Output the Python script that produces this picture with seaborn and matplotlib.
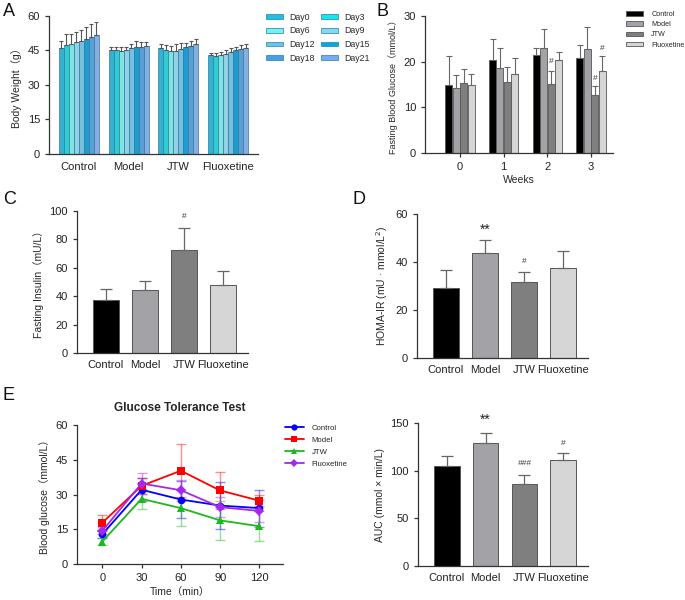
import numpy as np
import pandas as pd
import matplotlib
matplotlib.use("Agg")
import matplotlib.pyplot as plt
from matplotlib.patches import Patch
from matplotlib.lines import Line2D
import seaborn as sns

# ---------------- data ----------------
groups = ["Control", "Model", "JTW", "Fluoxetine"]
days = ["Day0", "Day3", "Day6", "Day9", "Day12", "Day15", "Day18", "Day21"]

bw_control = [46.1, 47.5, 47.8, 48.5, 49.1, 50.1, 50.9, 51.6]
bw_control_err = [3.0, 4.5, 4.5, 4.5, 5.0, 5.0, 5.6, 5.8]
bw_model = [45.2, 45.1, 44.9, 45.0, 45.9, 46.5, 46.5, 47.0]
bw_model_err = [1.5, 1.5, 1.5, 1.6, 1.9, 2.5, 2.3, 1.9]
bw_jtw = [46.0, 45.2, 44.9, 44.8, 45.7, 46.4, 46.9, 47.8]
bw_jtw_err = [2.0, 2.3, 2.1, 3.0, 2.6, 2.0, 2.4, 2.2]
bw_flu = [43.0, 42.7, 43.0, 43.5, 44.3, 45.0, 45.5, 46.1]
bw_flu_err = [1.0, 1.0, 1.2, 1.6, 1.8, 1.6, 1.7, 1.9]

weeks = ["0", "1", "2", "3"]
fbg_control = [14.85, 20.3, 21.4, 20.8]
fbg_control_err = [6.5, 4.6, 1.5, 2.8]
fbg_model = [14.3, 18.7, 22.9, 22.7]
fbg_model_err = [2.7, 4.4, 4.2, 5.0]
fbg_jtw = [15.4, 15.5, 15.2, 12.6]
fbg_jtw_err = [2.9, 3.4, 2.8, 2.1]
fbg_flu = [14.85, 17.4, 20.3, 18.0]
fbg_flu_err = [2.55, 3.5, 1.9, 3.2]

insulin = [37.1, 44.6, 72.2, 47.9]
insulin_err = [7.8, 6.3, 15.9, 10.0]

homa = [29.3, 43.8, 31.8, 37.4]
homa_err = [7.5, 5.4, 4.0, 7.1]

times = [0, 30, 60, 90, 120]
ogtt_control = [12.9, 32.1, 27.9, 25.3, 24.2]
ogtt_control_err = [1.5, 5.0, 8.0, 10.0, 8.0]
ogtt_model = [17.9, 33.8, 40.3, 31.8, 27.4]
ogtt_model_err = [3.2, 3.5, 11.5, 8.0, 2.4]
ogtt_jtw = [9.8, 28.2, 24.2, 18.9, 16.4]
ogtt_jtw_err = [1.6, 4.3, 7.8, 8.3, 6.4]
ogtt_flu = [14.4, 34.8, 31.9, 24.6, 23.0]
ogtt_flu_err = [1.5, 4.6, 4.5, 4.2, 4.6]

auc = [104.8, 129.3, 85.9, 111.1]
auc_err = [11.2, 10.9, 9.8, 8.1]

# ---------------- style ----------------
sns.set_style("ticks")
plt.rcParams["font.family"] = ["Liberation Sans", "Noto Sans CJK SC", "DejaVu Sans"]
plt.rcParams["axes.linewidth"] = 0.9
plt.rcParams["axes.edgecolor"] = "#333333"
plt.rcParams["xtick.major.size"] = 3
plt.rcParams["ytick.major.size"] = 3
plt.rcParams["xtick.major.width"] = 0.9
plt.rcParams["ytick.major.width"] = 0.9
plt.rcParams["xtick.color"] = "#333333"
plt.rcParams["ytick.color"] = "#333333"
plt.rcParams["xtick.labelcolor"] = "#222222"
plt.rcParams["ytick.labelcolor"] = "#222222"

W, H = 685, 600
fig = plt.figure(figsize=(6.85, 6.0), dpi=100)


def axes_px(l, r, t, b):
    return fig.add_axes([l / W, 1 - b / H, (r - l) / W, (b - t) / H])


def bars_sorted(ax):
    ps = [p for p in ax.patches if p.get_width() > 0]
    return sorted(ps, key=lambda p: p.get_x())


day_colors = ["#1EC0E8", "#12E6F0", "#72F2F0", "#84D8F4",
              "#66C6F0", "#00A8EC", "#46A0E8", "#78AAF2"]
gray_colors = ["#000000", "#A2A2A8", "#7F7F7F", "#D6D6D6"]
line_colors = ["#0000FF", "#FF0000", "#1DB81D", "#A428F0"]
TICKFS = 8

# ---------------- A: body weight ----------------
axA = axes_px(49, 258, 16, 154)
bw_vals = [bw_control, bw_model, bw_jtw, bw_flu]
bw_errs = [bw_control_err, bw_model_err, bw_jtw_err, bw_flu_err]
dfA = pd.DataFrame([(g, d, bw_vals[i][j])
                    for i, g in enumerate(groups) for j, d in enumerate(days)],
                   columns=["group", "day", "value"])
sns.barplot(data=dfA, x="group", y="value", hue="day", hue_order=days,
            order=groups, palette=day_colors, width=0.8, errorbar=None,
            edgecolor="#2A7EA0", linewidth=0.5, legend=False, ax=axA)
for k, bar in enumerate(bars_sorted(axA)):
    i, j = k // len(days), k % len(days)
    x = bar.get_x() + bar.get_width() / 2
    axA.errorbar(x, bw_vals[i][j], yerr=[[0], [bw_errs[i][j]]], fmt="none",
                 ecolor="#555555", elinewidth=0.8, capsize=1.5, capthick=0.8)
axA.set_ylim(0, 60)
axA.set_yticks([0, 15, 30, 45, 60])
axA.set_xlim(-0.6, 3.6)
axA.set_xlabel("")
axA.set_ylabel("Body Weight（g）", fontsize=7.5)
axA.tick_params(axis="x", length=0, labelsize=TICKFS, pad=6)
axA.tick_params(axis="y", labelsize=TICKFS)
sns.despine(ax=axA)
order_idx = [0, 2, 4, 6, 1, 3, 5, 7]
handlesA = [Patch(facecolor=day_colors[k], edgecolor="#2A7EA0", linewidth=0.5) for k in order_idx]
labelsA = [days[k] for k in order_idx]
fig.legend(handlesA, labelsA, ncol=2, loc="upper left",
           bbox_to_anchor=(262 / W, 1 - 9 / H), frameon=False, fontsize=6.3,
           handlelength=2.0, handleheight=0.45, handletextpad=0.7,
           columnspacing=0.7, labelspacing=0.55, borderaxespad=0)

# ---------------- B: fasting blood glucose ----------------
axB = axes_px(425, 613, 16, 153)
fbg_vals = [fbg_control, fbg_model, fbg_jtw, fbg_flu]
fbg_errs = [fbg_control_err, fbg_model_err, fbg_jtw_err, fbg_flu_err]
dfB = pd.DataFrame([(w, g, fbg_vals[i][j])
                    for i, g in enumerate(groups) for j, w in enumerate(weeks)],
                   columns=["week", "group", "value"])
sns.barplot(data=dfB, x="week", y="value", hue="group", hue_order=groups,
            order=weeks, palette=gray_colors, width=0.68, gap=0.06, errorbar=None,
            edgecolor="#555555", linewidth=0.6, legend=False, ax=axB)
bar_xB = {}
for k, bar in enumerate(bars_sorted(axB)):
    j, i = k // len(groups), k % len(groups)
    x = bar.get_x() + bar.get_width() / 2
    bar_xB[(i, j)] = x
    axB.errorbar(x, fbg_vals[i][j], yerr=[[0], [fbg_errs[i][j]]], fmt="none",
                 ecolor="#666666", elinewidth=0.8, capsize=2.5, capthick=0.8)
axB.text(bar_xB[(2, 2)], 19.3, "#", ha="center", va="bottom", fontsize=6, color="#333333")
axB.text(bar_xB[(2, 3)], 15.6, "#", ha="center", va="bottom", fontsize=6, color="#333333")
axB.text(bar_xB[(3, 3)], 22.2, "#", ha="center", va="bottom", fontsize=6, color="#333333")
axB.set_ylim(0, 30)
axB.set_yticks([0, 10, 20, 30])
axB.set_xlim(-0.8, 3.5)
axB.set_xlabel("Weeks", fontsize=7.5, labelpad=2)
axB.set_ylabel("Fasting Blood Glucose（mmol/L）", fontsize=6.5)
axB.tick_params(labelsize=TICKFS)
sns.despine(ax=axB)
handlesB = [Patch(facecolor=c, edgecolor="#555555", linewidth=0.6) for c in gray_colors]
fig.legend(handlesB, groups, loc="upper left", bbox_to_anchor=(623 / W, 1 - 8 / H),
           frameon=False, fontsize=5.2, handlelength=2.4, handleheight=0.6,
           handletextpad=1.1, labelspacing=0.45, borderaxespad=0)


# ---------------- simple bar helper ----------------
def simple_bars(ax, vals, errs, ylim, yticks, ylabel, ylabelfs=7.5):
    sns.barplot(x=groups, y=vals, hue=groups, palette=gray_colors, width=0.66,
                errorbar=None, edgecolor="#555555", linewidth=0.7, legend=False, ax=ax)
    xs = []
    for i, bar in enumerate(bars_sorted(ax)):
        x = bar.get_x() + bar.get_width() / 2
        xs.append(x)
        ax.errorbar(x, vals[i], yerr=[[0], [errs[i]]], fmt="none", ecolor="#666666",
                    elinewidth=0.9, capsize=4, capthick=0.9)
    ax.set_ylim(*ylim)
    ax.set_yticks(yticks)
    ax.set_xlim(-0.74, 3.64)
    ax.set_ylabel(ylabel, fontsize=ylabelfs)
    ax.tick_params(axis="x", length=0, labelsize=TICKFS, pad=5)
    ax.tick_params(axis="y", labelsize=TICKFS)
    sns.despine(ax=ax)
    return xs


# ---------------- C: fasting insulin ----------------
axC = axes_px(77, 248, 210.7, 353.3)
xsC = simple_bars(axC, insulin, insulin_err, (0, 100), [0, 20, 40, 60, 80, 100],
                  "Fasting Insulin（mU/L）")
axC.text(xsC[2], 93.5, "#", ha="center", va="bottom", fontsize=6, color="#333333")

# ---------------- D: HOMA-IR ----------------
axD = axes_px(417, 588, 214.3, 357.7)
xsD = simple_bars(axD, homa, homa_err, (0, 60), [0, 20, 40, 60],
                  "HOMA-IR (mU · mmol/L$^{2}$)")
axD.text(xsD[1], 50.5, "**", ha="center", va="bottom", fontsize=10, color="#222222")
axD.text(xsD[2], 38.8, "#", ha="center", va="bottom", fontsize=6, color="#333333")

# ---------------- E: OGTT ----------------
axE = axes_px(77, 283, 425, 564.3)
og_vals = [ogtt_control, ogtt_model, ogtt_jtw, ogtt_flu]
og_errs = [ogtt_control_err, ogtt_model_err, ogtt_jtw_err, ogtt_flu_err]
dfE = pd.DataFrame([(g, t, og_vals[i][j])
                    for i, g in enumerate(groups) for j, t in enumerate(times)],
                   columns=["group", "time", "value"])
markers = {"Control": "o", "Model": "s", "JTW": "^", "Fluoxetine": "D"}
for i, g in enumerate(groups):
    axE.errorbar(times, og_vals[i], yerr=og_errs[i], fmt="none",
                 ecolor=line_colors[i], alpha=0.45, elinewidth=1.0,
                 capsize=3.5, capthick=1.0)
sns.lineplot(data=dfE, x="time", y="value", hue="group", hue_order=groups,
             style="group", style_order=groups, markers=markers, dashes=False,
             palette=line_colors, linewidth=1.3, markersize=5.5, markeredgewidth=0,
             legend=False, ax=axE)
axE.set_ylim(0, 60)
axE.set_yticks([0, 15, 30, 45, 60])
axE.set_xlim(-19.3, 138)
axE.set_xticks(times)
axE.set_xlabel("Time（min）", fontsize=7.5, labelpad=3)
axE.set_ylabel("Blood glucose（mmol/L）", fontsize=7.5)
axE.set_title("Glucose Tolerance Test", fontsize=8.5, fontweight="bold", pad=10)
axE.tick_params(labelsize=TICKFS)
sns.despine(ax=axE)
handlesE = [Line2D([0], [0], color=line_colors[i], marker=markers[g], markersize=4.5,
                   markeredgewidth=0, linewidth=1.3) for i, g in enumerate(groups)]
fig.legend(handlesE, groups, loc="upper left", bbox_to_anchor=(282 / W, 1 - 421 / H),
           frameon=False, fontsize=5.6, handlelength=2.4, handletextpad=1.0,
           labelspacing=0.6, borderaxespad=0)

# ---------------- F: AUC ----------------
axF = axes_px(418, 588, 423.3, 566)
xsF = simple_bars(axF, auc, auc_err, (0, 150), [0, 50, 100, 150],
                  "AUC (mmol × min/L)")
axF.text(xsF[1], 146, "**", ha="center", va="bottom", fontsize=10, color="#222222")
axF.text(xsF[2], 104, "###", ha="center", va="bottom", fontsize=6, color="#333333",
         style="italic")
axF.text(xsF[3], 125, "#", ha="center", va="bottom", fontsize=6, color="#333333")

# ---------------- panel letters ----------------
for lab, x, y in [("A", 3, 12), ("B", 377, 12), ("C", 3, 200), ("D", 353, 200), ("E", 3, 396)]:
    fig.text(x / W, 1 - y / H, lab, fontsize=13, va="center", ha="left", color="#111111")

fig.savefig("out.png", dpi=100)
